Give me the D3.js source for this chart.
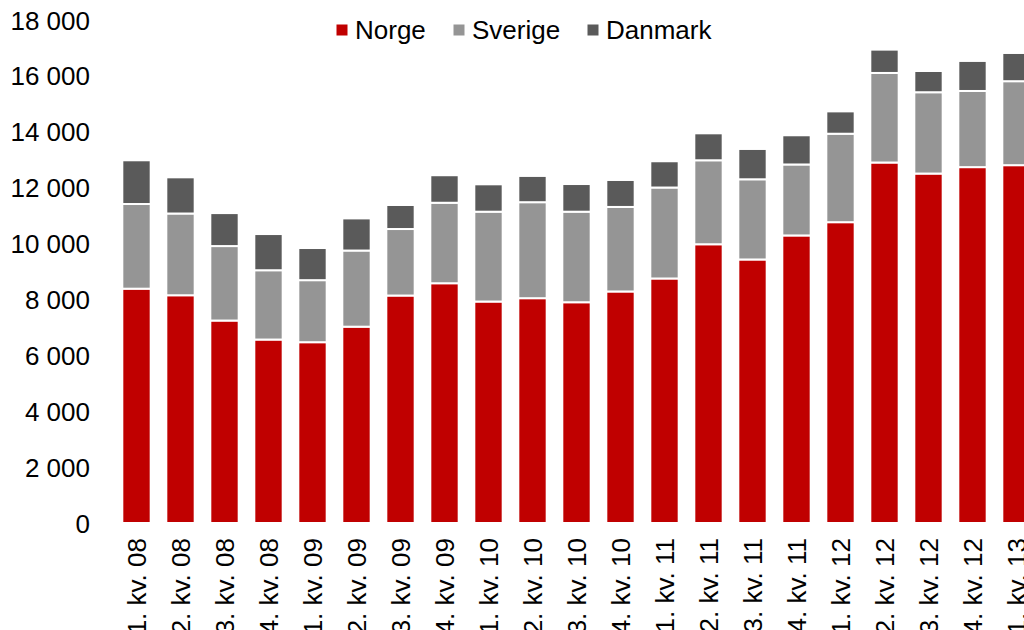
<!DOCTYPE html>
<html>
  <head>
    <title>Norge Sverige Danmark</title>
    <script type="text/javascript" src="https://cdn.jsdelivr.net/npm/d3@7"></script>
    <style>
      body { margin:0; padding:0; background:#fff; }
      #chart { width:1024px; height:630px; overflow:hidden; }
      #chart text { font-family: "Liberation Sans", Arial, sans-serif; font-size:26px; fill:#000; }
    </style>
  </head>
  <body>
    <div id="chart"></div>

    <script type="text/javascript">

		///////////////////////////////
		// DATA
		var quarters = ['1. kv. 08','2. kv. 08','3. kv. 08','4. kv. 08',
			'1. kv. 09','2. kv. 09','3. kv. 09','4. kv. 09',
			'1. kv. 10','2. kv. 10','3. kv. 10','4. kv. 10',
			'1. kv. 11','2. kv. 11','3. kv. 11','4. kv. 11',
			'1. kv. 12','2. kv. 12','3. kv. 12','4. kv. 12',
			'1. kv. 13'];
		var norge   = [8385, 8150, 7245, 6565, 6470, 7025, 8140, 8580, 7925, 8045, 7900, 8285, 8750, 9975, 9430, 10290, 10765, 12900, 12505, 12735, 12805];
		var sverige = [3030, 2925, 2665, 2480, 2220, 2725, 2380, 2880, 3215, 3435, 3240, 3025, 3255, 3005, 2870, 2540, 3165, 3205, 2910, 2725, 3005];
		var danmark = [1565, 1295, 1180, 1295, 1150, 1150, 860, 985, 980, 940, 990, 965, 940, 965, 1085, 1045, 800, 835, 760, 1075, 1010];
		var series  = ['Norge', 'Sverige', 'Danmark'];
		var yTicks  = [0, 2000, 4000, 6000, 8000, 10000, 12000, 14000, 16000, 18000];

		var colors = {'Norge':'#C00000', 'Sverige':'#959595', 'Danmark':'#5A5A5A'};

		// build rows for d3.stack
		var rows = [];
		quarters.forEach(function(q, i) {
			rows.push({kv:q, Norge:norge[i], Sverige:sverige[i], Danmark:danmark[i]});
		});

		///////////////////////////////
		// SVG + SCALES
		var W = 1024, H = 630;
		var svg = d3.select('#chart').append('svg')
			.attr('width', W)
			.attr('height', H);

		// the last bar runs off the right edge in the original
		var x = d3.scaleBand()
			.domain(quarters)
			.range([114.5, 1038.5])
			.paddingInner(0.355)
			.paddingOuter(0.1775);

		var y = d3.scaleLinear()
			.domain([0, 18000])
			.range([523, 20]);

		var fmt = d3.formatLocale({decimal:',', thousands:' ', grouping:[3], currency:['','']}).format(',d');

		///////////////////////////////
		// BARS
		var stacked = d3.stack().keys(series)(rows);

		svg.append('g').selectAll('g')
			.data(stacked)
			.enter().append('g')
				.attr('fill', function(d) { return colors[d.key]; })
			.selectAll('rect')
			.data(function(d) { return d; })
			.enter().append('rect')
				.attr('x', function(d) { return x(d.data.kv); })
				.attr('y', function(d) { return y(d[1]); })
				.attr('width', x.bandwidth())
				.attr('height', function(d) { return y(d[0]) - y(d[1]); })
				.attr('stroke', '#ffffff')
				.attr('stroke-width', 2);

		///////////////////////////////
		// AXES (no lines, only labels)
		var yAxis = svg.append('g')
			.attr('transform', 'translate(96,0)')
			.call(d3.axisLeft(y).tickValues(yTicks).tickSize(0).tickPadding(6).tickFormat(fmt));
		yAxis.select('.domain').remove();
		yAxis.selectAll('text').attr('dy', '0.35em');

		var xAxis = svg.append('g')
			.attr('transform', 'translate(0,523)')
			.call(d3.axisBottom(x).tickSize(0));
		xAxis.select('.domain').remove();
		xAxis.selectAll('text')
			.attr('transform', 'rotate(-90)')
			.attr('text-anchor', 'end')
			.attr('x', -15)
			.attr('y', 0)
			.attr('dy', '0.35em');

		// axis() sets its own font, put ours back
		svg.selectAll('.tick text').attr('fill', '#000');
		svg.selectAll('g').attr('font-family', null).attr('font-size', null);

		///////////////////////////////
		// LEGEND
		var legendX = [336.5, 453.5, 587.5];
		var legend = svg.append('g');
		series.forEach(function(s, i) {
			legend.append('rect')
				.attr('x', legendX[i])
				.attr('y', 24.5)
				.attr('width', 11)
				.attr('height', 11)
				.attr('fill', colors[s]);
			legend.append('text')
				.attr('x', legendX[i] + 18.5)
				.attr('y', 39)
				.text(s);
		});

    </script>
  </body>
</html>
